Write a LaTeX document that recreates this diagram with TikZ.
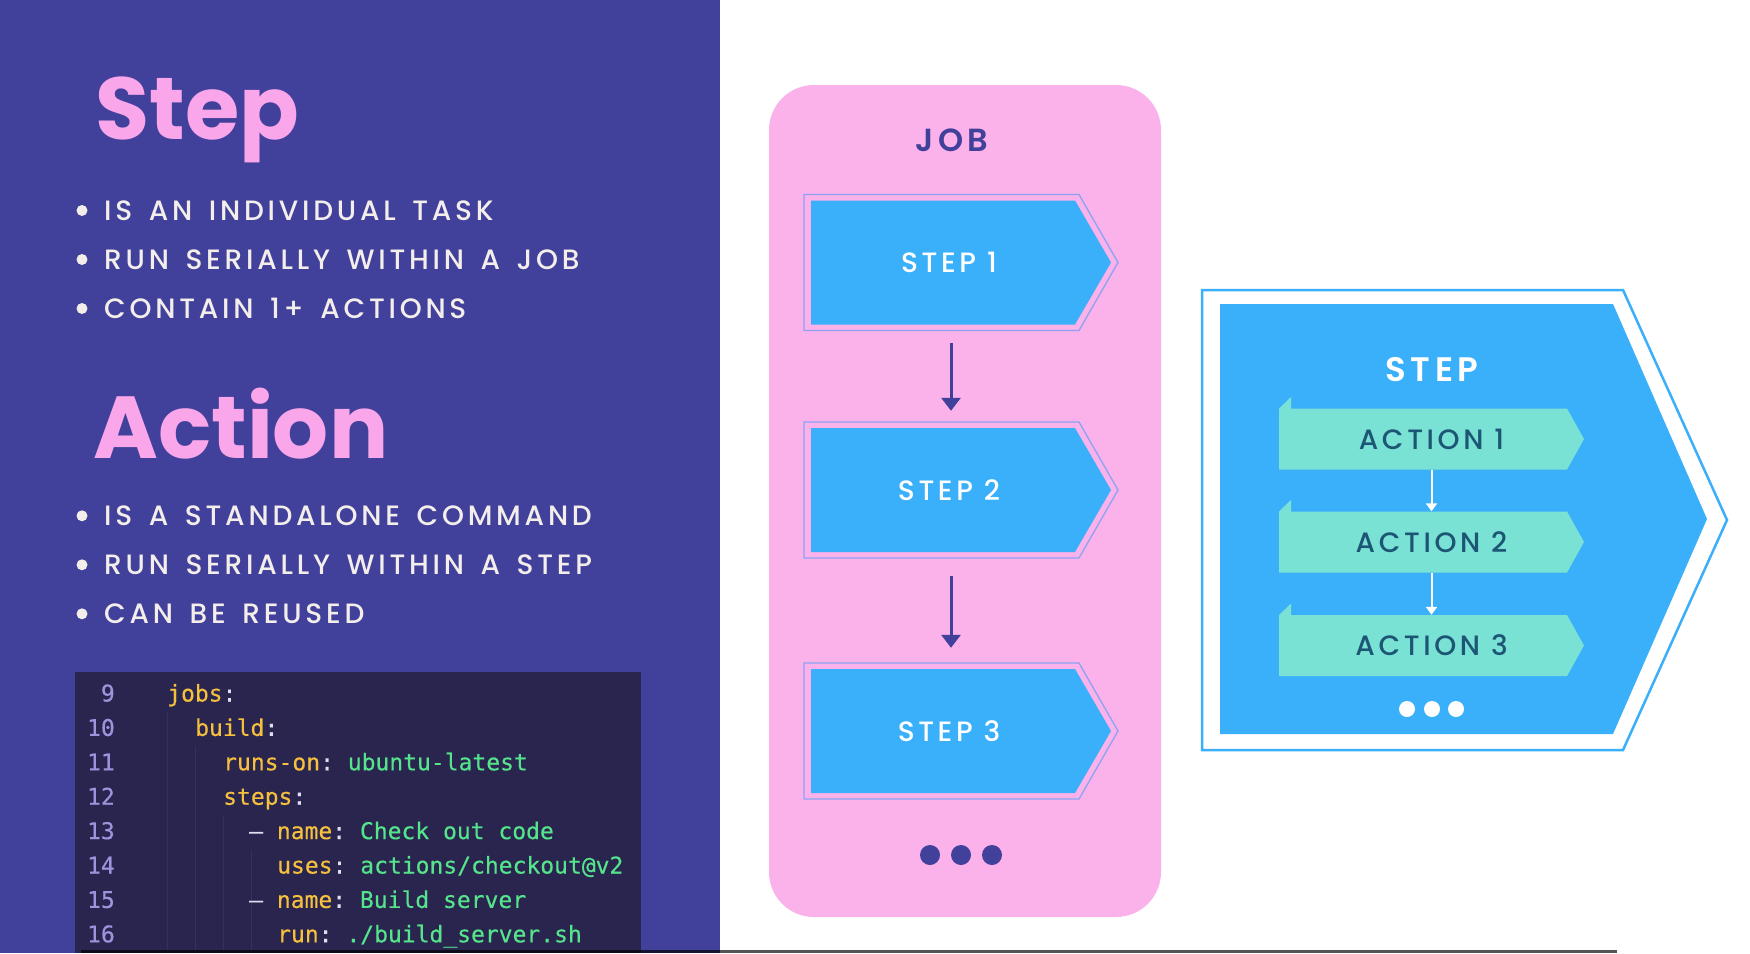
\documentclass[tikz,border=0pt]{standalone}
\usepackage{fontspec}
\setmainfont{Poppins}
\newfontfamily\popmed{Poppins}[UprightFont=* Medium, BoldFont=* SemiBold, LetterSpace=13]
\newfontfamily\popbul{Poppins}[UprightFont=* Medium, LetterSpace=13.5, WordSpace=1.5]
\newfontfamily\popbold{Poppins}[UprightFont=* Bold]
\newfontfamily\codef{DejaVu Sans Mono}[FakeBold=0.4]
\usetikzlibrary{arrows.meta}
\definecolor{purplebg}{HTML}{41409B}
\definecolor{titlepink}{HTML}{F9A7EA}
\definecolor{jobpink}{HTML}{FBB1EA}
\definecolor{bultxt}{HTML}{F3EEEA}
\definecolor{bluefill}{HTML}{3AAFFA}
\definecolor{stepline}{HTML}{8AA4F2}
\definecolor{mint}{HTML}{79E2D5}
\definecolor{acttxt}{HTML}{1D5574}
\definecolor{codebg}{HTML}{29254F}
\definecolor{guide}{HTML}{343060}
\definecolor{lnum}{HTML}{9C94DC}
\definecolor{ckey}{HTML}{F4C03E}
\definecolor{cval}{HTML}{55E38B}
\definecolor{ccol}{HTML}{DCE0F0}
\tikzset{
  title/.style={anchor=base west, inner sep=0, text=titlepink, font=\popbold\fontsize{88}{88}\selectfont},
  bul/.style={anchor=base west, inner sep=0, text=bultxt, font=\popbul\fontsize{28}{28}\selectfont},
  steptxt/.style={inner sep=0, minimum width=294pt, minimum height=136pt, text=white, font=\popmed\fontsize{28}{28}\selectfont},
  jobarrow/.style={line width=3pt, draw=purplebg, -{Triangle[width=19pt,length=13pt]}},
  actbox/.style={inner sep=0, minimum width=305pt, minimum height=61pt, text=acttxt, font=\popmed\fontsize{28}{28}\selectfont},
  actarrow/.style={line width=2pt, draw=white, -{Triangle[width=11pt,length=8pt]}},
  ln/.style={anchor=base east, inner sep=0, text=lnum, font=\codef\fontsize{23}{23}\selectfont},
  code/.style={anchor=base west, inner sep=0, font=\codef\fontsize{23}{23}\selectfont\frenchspacing},
}
\newcommand{\stepshape}[3]{%
  \draw[stepline, line width=1.3pt] (804,#2-68) -- (1079,#2-68) -- (1118,#2) -- (1079,#2+68) -- (804,#2+68) -- cycle;
  \fill[bluefill] (811,#2-62) -- (1075,#2-62) -- (1111,#2) -- (1075,#2+62) -- (811,#2+62) -- cycle;
  \node[steptxt] (#1) at (949,#2) {#3};
}
\newcommand{\actshape}[3]{%
  \fill[mint] (1279,#2-30.5) -- (1291,#2-42) -- (1291,#2-30.5) -- (1567,#2-30.5) -- (1584,#2) -- (1567,#2+30.5) -- (1279,#2+30.5) -- cycle;
  \node[actbox] (#1) at (1431.5,#2) {#3};
}
\begin{document}
\begin{tikzpicture}[x=1pt, y=-1pt]
\useasboundingbox (0,0) rectangle (1750,953);
\fill[white] (0,0) rectangle (1750,953);
% left panel
\fill[purplebg] (0,0) rectangle (720,953);
\node[title] (tstep) at (95,139) {Step};
\node[title] (taction) at (93,458) {Action};
\foreach \y/\t/\n in {220.5/IS AN INDIVIDUAL TASK/b1, 269.5/RUN SERIALLY WITHIN A JOB/b2, 318.5/CONTAIN 1+ ACTIONS/b3,
                      525.8/IS A STANDALONE COMMAND/b4, 574.8/RUN SERIALLY WITHIN A STEP/b5, 623.8/CAN BE REUSED/b6}{
  \fill[bultxt] (82,\y-10) circle (5.5);
  \node[bul] (\n) at (104,\y) {\t};
}
% code box
\fill[codebg] (75,672) rectangle (641,953);
\draw[guide, line width=1pt] (167,712) -- (167,953);
\draw[guide, line width=1pt] (195,746) -- (195,953);
\draw[guide, line width=1pt] (223,815) -- (223,953);
\draw[guide, line width=1pt] (251,850) -- (251,953);
\node[ln] (n9)  at (115,701.5) {9};
\node[ln] (n10) at (115,735.9) {10};
\node[ln] (n11) at (115,770.3) {11};
\node[ln] (n12) at (115,804.7) {12};
\node[ln] (n13) at (115,839.1) {13};
\node[ln] (n14) at (115,873.5) {14};
\node[ln] (n15) at (115,907.9) {15};
\node[ln] (n16) at (115,942.3) {16};
\node[code] (c9)  at (167,701.5) {\textcolor{ckey}{jobs}\textcolor{ccol}{:}};
\node[code] (c10) at (195,735.9) {\textcolor{ckey}{build}\textcolor{ccol}{:}};
\node[code] (c11) at (223,770.3) {\textcolor{ckey}{runs-on}\textcolor{ccol}{:} \textcolor{cval}{ubuntu-latest}};
\node[code] (c12) at (223,804.7) {\textcolor{ckey}{steps}\textcolor{ccol}{:}};
\node[code] (c13) at (249,839.1) {\textcolor{ccol}{–} \textcolor{ckey}{name}\textcolor{ccol}{:} \textcolor{cval}{Check out code}};
\node[code] (c14) at (277,873.5) {\textcolor{ckey}{uses}\textcolor{ccol}{:} \textcolor{cval}{actions/checkout@v2}};
\node[code] (c15) at (249,907.9) {\textcolor{ccol}{–} \textcolor{ckey}{name}\textcolor{ccol}{:} \textcolor{cval}{Build server}};
\node[code] (c16) at (277,942.3) {\textcolor{ckey}{run}\textcolor{ccol}{:} \textcolor{cval}{./build\_server.sh}};
% job panel
\node[fill=jobpink, rounded corners=45pt, minimum width=392pt, minimum height=832pt, inner sep=0] (job) at (965,501) {};
\node[text=purplebg, font=\popmed\bfseries\fontsize{32}{32}\selectfont, inner sep=0] (jobttl) at (952,140) {JOB};
\stepshape{s1}{262.5}{STEP 1}
\stepshape{s2}{490}{STEP 2}
\stepshape{s3}{731}{STEP 3}
\draw[jobarrow, shorten <=12.5pt, shorten >=11pt] ([xshift=2pt]s1.south) -- ([xshift=2pt]s2.north);
\draw[jobarrow, shorten <=18pt, shorten >=15pt] ([xshift=2pt]s2.south) -- ([xshift=2pt]s3.north);
\foreach \x in {930,961,992}{\fill[purplebg] (\x,855) circle (10);}
% step detail panel
\draw[bluefill, line width=2.5pt] (1202,290) -- (1623,290) -- (1727,520) -- (1623,750) -- (1202,750) -- cycle;
\fill[bluefill] (1220,304) -- (1613,304) -- (1707,519) -- (1613,734) -- (1220,734) -- cycle;
\node[text=white, font=\popmed\bfseries\fontsize{34}{34}\selectfont, inner sep=0] (stepttl) at (1432,370) {STEP};
\actshape{a1}{439}{ACTION 1}
\actshape{a2}{542}{ACTION 2}
\actshape{a3}{645.5}{ACTION 3}
\draw[actarrow] (a1.south) -- (a2.north);
\draw[actarrow] (a2.south) -- (a3.north);
\foreach \x in {1407,1432,1456}{\fill[white] (\x,709) circle (8);}
% progress bar
\fill[black, opacity=0.67] (81,949.5) rectangle (1617,953);
\end{tikzpicture}
\end{document}
